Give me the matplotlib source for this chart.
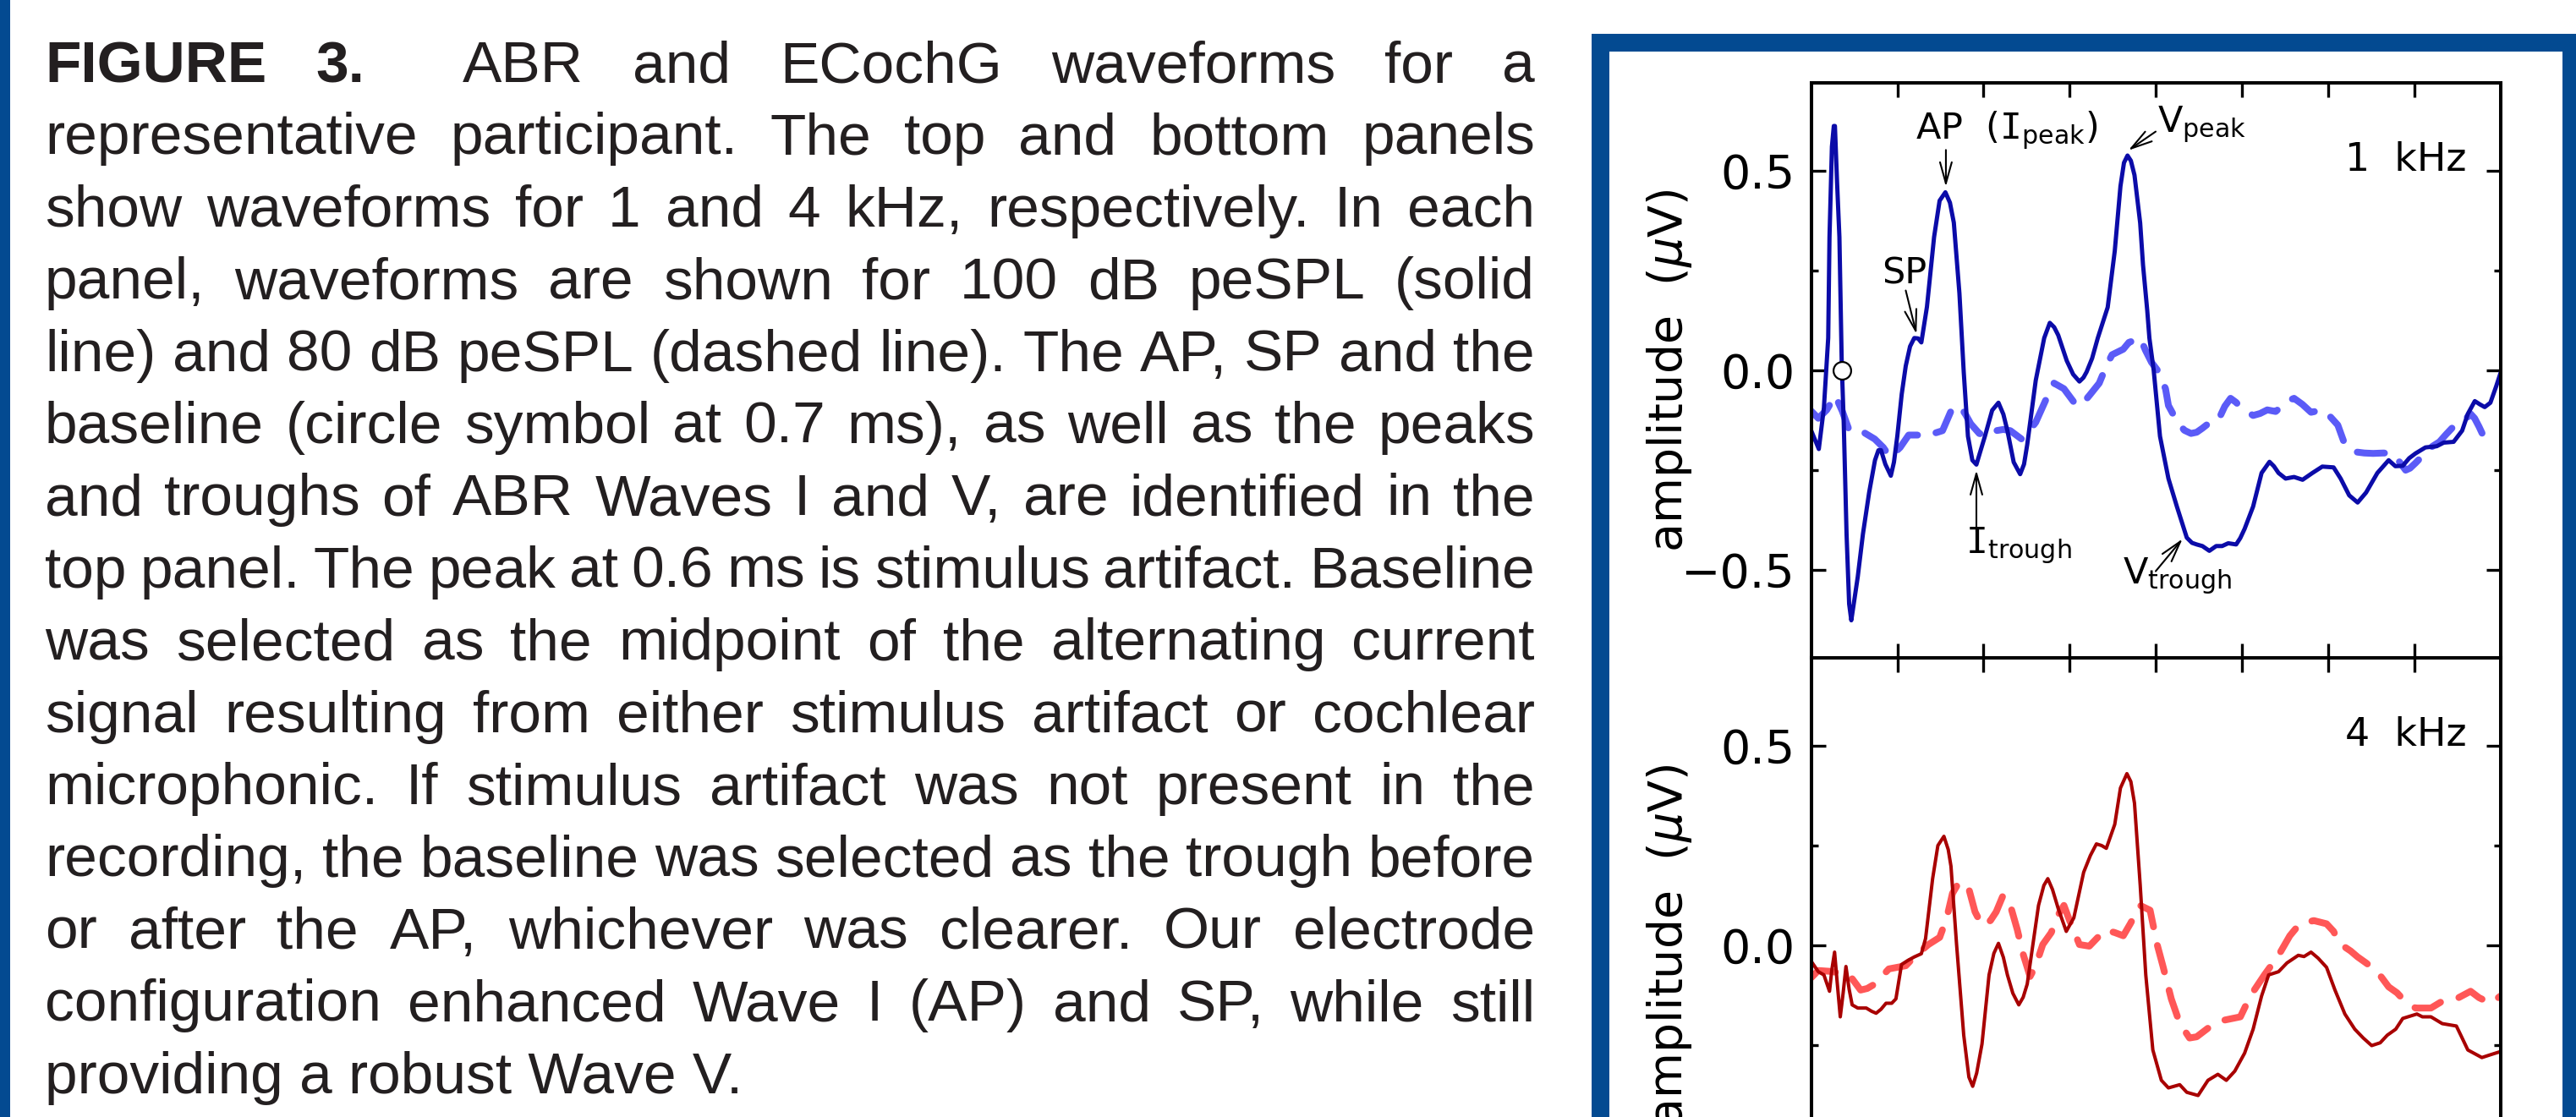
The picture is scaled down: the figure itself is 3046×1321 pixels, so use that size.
import matplotlib.pyplot as plt
from matplotlib.patches import Rectangle
from matplotlib.transforms import blended_transform_factory

plt.rcParams['mathtext.fontset'] = 'custom'
plt.rcParams['mathtext.rm'] = 'DejaVu Sans'
plt.rcParams['mathtext.it'] = 'DejaVu Sans:italic'
plt.rcParams['mathtext.tt'] = 'DejaVu Sans Mono'

# canvas size in pixels (saved at dpi=100)
W, H = 3046, 1321

# ---- waveform data: time (ms) and amplitude (uV) ----
t_1k_100 = [0.000, 0.088, 0.147, 0.197, 0.212, 0.240, 0.262, 0.275, 0.300, 0.327,
            0.354, 0.377, 0.410, 0.440, 0.465, 0.490, 0.540, 0.600, 0.672, 0.740,
            0.780, 0.810, 0.860, 0.924, 0.960, 0.999, 1.050, 1.097, 1.147, 1.196,
            1.240, 1.278, 1.343, 1.426, 1.490, 1.557, 1.610, 1.655, 1.720, 1.770,
            1.819, 1.870, 1.917, 1.960, 2.016, 2.100, 2.173, 2.230, 2.277, 2.350,
            2.425, 2.470, 2.507, 2.606, 2.704, 2.769, 2.820, 2.867, 2.966, 3.040,
            3.113, 3.160, 3.196, 3.260, 3.326, 3.441, 3.523, 3.589, 3.630, 3.671,
            3.710, 3.752, 3.790, 3.818, 3.851, 3.900, 3.925, 3.975, 4.048, 4.146,
            4.244, 4.359, 4.420, 4.474, 4.540, 4.621, 4.700, 4.769, 4.840, 4.932,
            4.980, 5.030, 5.129, 5.227, 5.319, 5.370, 5.424, 5.506, 5.604, 5.703,
            5.817, 5.932, 6.063, 6.145, 6.244, 6.342, 6.440, 6.571, 6.702, 6.780,
            6.866, 6.940, 7.014, 7.129, 7.260, 7.341, 7.456, 7.555, 7.621, 7.702,
            7.760, 7.817, 7.883, 7.950, 8.000]
a_1k_100 = [-0.151, -0.197, -0.094, 0.081, 0.334, 0.560, 0.612, 0.612, 0.470, 0.334,
            0.018, -0.130, -0.410, -0.585, -0.626, -0.590, -0.517, -0.410, -0.306, -0.225,
            -0.200, -0.200, -0.235, -0.264, -0.230, -0.165, -0.060, 0.011, 0.060, 0.081,
            0.080, 0.070, 0.159, 0.334, 0.425, 0.446, 0.420, 0.370, 0.193, -0.004,
            -0.165, -0.225, -0.236, -0.205, -0.165, -0.100, -0.081, -0.110, -0.151, -0.230,
            -0.260, -0.235, -0.186, -0.025, 0.081, 0.119, 0.108, 0.088, 0.024, -0.010,
            -0.028, -0.018, -0.004, 0.030, 0.081, 0.158, 0.299, 0.461, 0.520, 0.538,
            0.525, 0.489, 0.420, 0.369, 0.264, 0.150, 0.081, 0.000, -0.165, -0.271,
            -0.341, -0.419, -0.432, -0.436, -0.440, -0.452, -0.440, -0.440, -0.433, -0.436,
            -0.420, -0.397, -0.341, -0.257, -0.229, -0.240, -0.257, -0.271, -0.267, -0.274,
            -0.257, -0.241, -0.243, -0.271, -0.313, -0.331, -0.306, -0.257, -0.225, -0.240,
            -0.239, -0.220, -0.208, -0.193, -0.190, -0.181, -0.179, -0.151, -0.109, -0.077,
            -0.085, -0.092, -0.081, -0.040, -0.007]

t_1k_80 = [0.000, 0.082, 0.180, 0.278, 0.360, 0.442, 0.520, 0.606, 0.737, 0.836,
           0.917, 0.975, 1.032, 1.131, 1.229, 1.327, 1.393, 1.524, 1.622, 1.720,
           1.790, 1.852, 1.950, 2.048, 2.147, 2.230, 2.311, 2.441, 2.520, 2.606,
           2.737, 2.818, 2.933, 3.064, 3.130, 3.228, 3.343, 3.425, 3.491, 3.622,
           3.687, 3.750, 3.818, 3.880, 3.950, 4.020, 4.112, 4.146, 4.244, 4.330,
           4.408, 4.474, 4.540, 4.605, 4.720, 4.800, 4.867, 4.930, 4.998, 5.129,
           5.210, 5.293, 5.391, 5.460, 5.522, 5.604, 5.700, 5.801, 5.932, 6.020,
           6.112, 6.194, 6.309, 6.420, 6.522, 6.640, 6.751, 6.830, 6.899, 6.950,
           7.014, 7.090, 7.161, 7.292, 7.370, 7.440, 7.555, 7.653, 7.700, 7.751,
           7.842]
a_1k_80 = [-0.102, -0.120, -0.099, -0.063, -0.102, -0.151, -0.150, -0.155, -0.172, -0.193,
           -0.218, -0.205, -0.193, -0.162, -0.162, -0.165, -0.160, -0.151, -0.102, -0.088,
           -0.110, -0.134, -0.158, -0.165, -0.151, -0.148, -0.151, -0.172, -0.155, -0.130,
           -0.067, -0.032, -0.046, -0.084, -0.088, -0.063, -0.032, 0.011, 0.039, 0.053,
           0.070, 0.075, 0.081, 0.050, 0.020, 0.000, -0.046, -0.088, -0.127, -0.150,
           -0.158, -0.155, -0.145, -0.134, -0.127, -0.090, -0.070, -0.080, -0.095, -0.113,
           -0.108, -0.099, -0.103, -0.090, -0.077, -0.070, -0.085, -0.105, -0.099, -0.115,
           -0.137, -0.186, -0.204, -0.207, -0.208, -0.207, -0.208, -0.230, -0.250, -0.245,
           -0.232, -0.215, -0.197, -0.179, -0.160, -0.144, -0.130, -0.109, -0.120, -0.141,
           -0.183]

t_4k_100 = [0.000, 0.082, 0.147, 0.212, 0.240, 0.271, 0.300, 0.337, 0.370, 0.403,
            0.440, 0.475, 0.540, 0.639, 0.700, 0.753, 0.810, 0.868, 0.934, 0.983,
            1.048, 1.120, 1.196, 1.278, 1.327, 1.409, 1.470, 1.540, 1.590, 1.622,
            1.687, 1.770, 1.830, 1.874, 1.920, 1.982, 2.064, 2.120, 2.173, 2.230,
            2.277, 2.340, 2.409, 2.460, 2.507, 2.638, 2.700, 2.746, 2.800, 2.867,
            2.960, 3.048, 3.162, 3.240, 3.310, 3.370, 3.425, 3.523, 3.589, 3.664,
            3.710, 3.752, 3.818, 3.883, 3.965, 4.064, 4.146, 4.277, 4.359, 4.490,
            4.605, 4.720, 4.818, 4.916, 5.030, 5.129, 5.227, 5.309, 5.424, 5.522,
            5.653, 5.720, 5.801, 5.883, 5.981, 6.079, 6.194, 6.309, 6.407, 6.505,
            6.604, 6.686, 6.784, 6.866, 7.030, 7.094, 7.193, 7.324, 7.488, 7.555,
            7.621, 7.784, 7.883, 8.000]
a_4k_100 = [-0.040, -0.066, -0.074, -0.115, -0.060, -0.017, -0.090, -0.179, -0.120, -0.053,
            -0.110, -0.149, -0.157, -0.157, -0.165, -0.170, -0.160, -0.145, -0.145, -0.134,
            -0.048, -0.038, -0.029, -0.021, 0.017, 0.167, 0.250, 0.273, 0.240, 0.198,
            0.002, -0.225, -0.330, -0.353, -0.320, -0.247, -0.074, -0.020, 0.005, -0.030,
            -0.074, -0.120, -0.149, -0.130, -0.097, 0.100, 0.150, 0.167, 0.140, 0.092,
            0.035, 0.069, 0.183, 0.225, 0.254, 0.250, 0.243, 0.303, 0.394, 0.430,
            0.410, 0.356, 0.152, -0.074, -0.262, -0.338, -0.357, -0.349, -0.368, -0.376,
            -0.338, -0.323, -0.338, -0.315, -0.270, -0.210, -0.127, -0.074, -0.066, -0.044,
            -0.025, -0.028, -0.017, -0.032, -0.055, -0.112, -0.172, -0.210, -0.232, -0.251,
            -0.244, -0.225, -0.210, -0.183, -0.172, -0.179, -0.179, -0.196, -0.202, -0.232,
            -0.262, -0.281, -0.274, -0.266]

t_4k_80 = [0.000, 0.082, 0.212, 0.320, 0.442, 0.573, 0.650, 0.737, 0.901, 1.097,
           1.212, 1.360, 1.491, 1.573, 1.639, 1.720, 1.835, 1.901, 1.982, 2.080,
           2.147, 2.228, 2.311, 2.392, 2.458, 2.540, 2.606, 2.687, 2.786, 2.868,
           2.933, 2.999, 3.113, 3.228, 3.326, 3.408, 3.523, 3.622, 3.703, 3.818,
           3.933, 4.015, 4.081, 4.179, 4.277, 4.391, 4.474, 4.638, 4.801, 4.981,
           5.096, 5.260, 5.424, 5.555, 5.670, 5.834, 5.981, 6.063, 6.129, 6.260,
           6.342, 6.440, 6.571, 6.702, 6.800, 6.899, 7.014, 7.193, 7.308, 7.488,
           7.653, 7.751, 7.883, 8.000]
a_4k_80 = [-0.081, -0.063, -0.065, -0.068, -0.074, -0.112, -0.108, -0.097, -0.059, -0.051,
           -0.025, 0.002, 0.020, 0.069, 0.130, 0.160, 0.137, 0.084, 0.050, 0.062,
           0.084, 0.126, 0.100, 0.039, -0.021, -0.078, -0.051, 0.002, 0.032, 0.077,
           0.100, 0.062, 0.002, -0.002, 0.020, 0.039, 0.032, 0.024, 0.054, 0.100,
           0.088, 0.002, -0.051, -0.134, -0.195, -0.232, -0.229, -0.202, -0.187, -0.179,
           -0.127, -0.074, -0.025, 0.024, 0.054, 0.062, 0.054, 0.035, 0.005, -0.014,
           -0.029, -0.044, -0.066, -0.104, -0.119, -0.142, -0.157, -0.157, -0.142, -0.134,
           -0.115, -0.131, -0.145, -0.127]

# baseline marker (top panel)
baseline_t, baseline_a = 0.354, 0.0

# annotation labels: (text, x, baseline y) and arrows: (tail, tip)
labels_1k = [
    (r'AP  ($\mathtt{I}_{\mathrm{peak}}$)', 1.212, 0.580),
    ('SP', 0.819, 0.218),
    (r'V$_{\mathrm{peak}}$', 4.020, 0.598),
    (r'$\mathtt{I}_{\mathrm{trough}}$', 1.786, -0.457),
    (r'V$_{\mathrm{trough}}$', 3.620, -0.533),
]
arrows_1k = [
    ((1.563, 0.552), (1.563, 0.460)),
    ((1.097, 0.200), (1.222, 0.091)),
    ((3.998, 0.598), (3.681, 0.551)),
    ((1.917, -0.404), (1.917, -0.250)),
    ((3.998, -0.503), (4.310, -0.422)),
]

caption_lead = ['FIGURE', '3.']
caption_lines = [
    'ABR and ECochG waveforms for a',
    'representative participant. The top and bottom panels',
    'show waveforms for 1 and 4 kHz, respectively. In each',
    'panel, waveforms are shown for 100 dB peSPL (solid',
    'line) and 80 dB peSPL (dashed line). The AP, SP and the',
    'baseline (circle symbol at 0.7 ms), as well as the peaks',
    'and troughs of ABR Waves I and V, are identified in the',
    'top panel. The peak at 0.6 ms is stimulus artifact. Baseline',
    'was selected as the midpoint of the alternating current',
    'signal resulting from either stimulus artifact or cochlear',
    'microphonic. If stimulus artifact was not present in the',
    'recording, the baseline was selected as the trough before',
    'or after the AP, whichever was clearer. Our electrode',
    'configuration enhanced Wave I (AP) and SP, while still',
    'providing a robust Wave V.',
]

FRAME_BLUE = '#034a91'
CAPTION_COLOR = '#231f20'
TICK_FONT = ['Liberation Sans Narrow', 'DejaVu Sans']


def fx(px):
    return px / W


def fy(py):
    # pixel row measured from the top of the canvas
    return 1 - py / H


def draw_caption(fig, x0, x1, y0, step, size):
    renderer = fig.canvas.get_renderer()
    font = dict(family=['Liberation Sans', 'DejaVu Sans'], size=size, color=CAPTION_COLOR)
    for i, line in enumerate(caption_lines):
        y = fy(y0 + i * step)
        if i == len(caption_lines) - 1:
            fig.text(fx(x0), y, line, va='baseline', ha='left', **font)
            continue
        words = line.split(' ')
        weights = ['normal'] * len(words)
        gaps = [1.0] * (len(words) - 1)
        if i == 0:
            words = caption_lead + words
            weights = ['bold'] * len(caption_lead) + weights
            gaps = [1.0, 2.0] + gaps
        items = []
        for w, wt in zip(words, weights):
            t = fig.text(0, y, w, va='baseline', ha='left', weight=wt, **font)
            items.append((t, t.get_window_extent(renderer).width))
        free = (x1 - x0) - sum(wd for _, wd in items)
        unit = free / sum(gaps)
        x = x0
        for k, (t, wd) in enumerate(items):
            t.set_x(fx(x))
            x += wd + (unit * gaps[k] if k < len(gaps) else 0)


def style_panel(ax):
    ax.set_xlim(0, 8)
    ax.set_ylim(-0.72, 0.72)
    ax.set_xticks(range(1, 8))
    ax.set_yticks([-0.5, 0.0, 0.5])
    ax.set_yticks([-0.25, 0.25], minor=True)
    ax.tick_params(which='both', direction='in', top=True, right=True,
                   labelbottom=False, colors='black')
    ax.tick_params(which='major', length=12, width=2.4, pad=14, labelsize=40)
    ax.tick_params(which='minor', length=6, width=2.4)
    for lab in ax.get_yticklabels():
        lab.set_family(TICK_FONT)
    for sp in ax.spines.values():
        sp.set_linewidth(2.9)
    ax.text(-0.2058, 0.5, r'amplitude  ($\mu$V)', rotation=90, ha='center', va='center',
            transform=ax.transAxes, fontsize=40, family='DejaVu Sans')


fig = plt.figure(figsize=(W / 100, H / 100), dpi=100)

# thin blue rule at the left edge and the frame round the figure panel
fig.add_artist(Rectangle((0, 0), fx(12), 1, transform=fig.transFigure,
                         color=FRAME_BLUE, lw=0))
fig.add_artist(Rectangle((fx(1891.5), fy(1500)), fx(3039.5 - 1891.5), (1500 - 49.5) / H,
                         transform=fig.transFigure, fill=False, ec=FRAME_BLUE,
                         lw=15.1, joinstyle='miter'))

draw_caption(fig, 53, 1815, 97, 85.4, 50)

ax_left, ax_width, ax_height = fx(2141.7), 815 / W, 680 / H
ax_top = fig.add_axes([ax_left, fy(778), ax_width, ax_height])
ax_bot = fig.add_axes([ax_left, fy(778) - ax_height, ax_width, ax_height])

# 1 kHz
ax_top.plot(t_1k_80, a_1k_80, color='#5b5bf7', lw=5.8, ls=(0, (4, 2.8)),
            dash_capstyle='round', solid_capstyle='round')
ax_top.plot(t_1k_100, a_1k_100, color='#0b0ba8', lw=3.6, solid_joinstyle='round')
ax_top.plot(baseline_t, baseline_a, 'o', ms=15, mfc='white', mec='black', mew=1.6, zorder=5)
style_panel(ax_top)
trans = blended_transform_factory(ax_top.transAxes, ax_top.transData)
ax_top.text(0.951, 0.5, '1  kHz', transform=trans, ha='right', va='baseline',
            fontsize=33, family='DejaVu Sans')
for text, x, y in labels_1k:
    ax_top.text(x, y, text, ha='left', va='baseline', fontsize=31, family='DejaVu Sans')
for tail, tip in arrows_1k:
    ax_top.annotate('', xy=tip, xytext=tail,
                    arrowprops=dict(arrowstyle='->, head_length=0.9, head_width=0.25',
                                    lw=1.5, color='black', shrinkA=0, shrinkB=0,
                                    mutation_scale=20))

# 4 kHz
ax_bot.plot(t_4k_80, a_4k_80, color='#ff5757', lw=5.8, ls=(0, (4, 2.8)),
            dash_capstyle='round', solid_capstyle='round')
ax_bot.plot(t_4k_100, a_4k_100, color='#a80000', lw=2.9, solid_joinstyle='round')
style_panel(ax_bot)
trans = blended_transform_factory(ax_bot.transAxes, ax_bot.transData)
ax_bot.text(0.951, 0.5, '4  kHz', transform=trans, ha='right', va='baseline',
            fontsize=33, family='DejaVu Sans')

fig.savefig('out.png', dpi=100)
